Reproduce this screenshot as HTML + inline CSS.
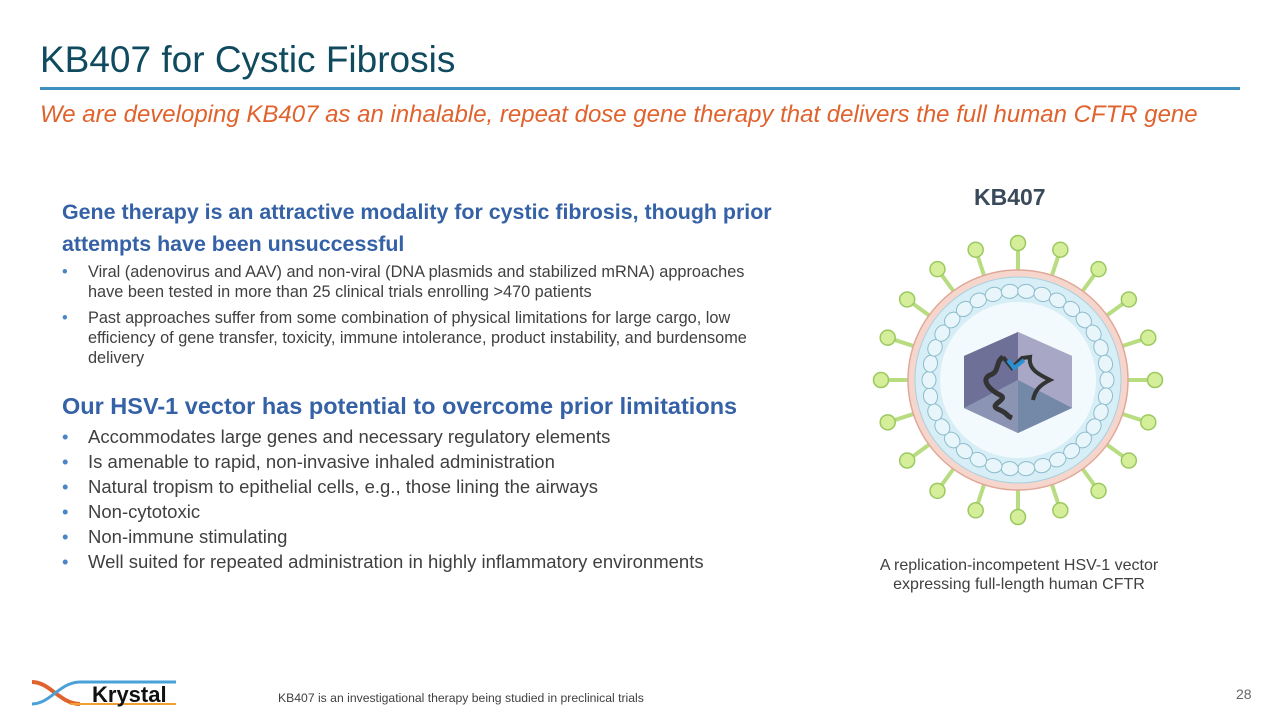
<!DOCTYPE html>
<html><head><meta charset="utf-8"><style>
body{margin:0;width:1280px;height:720px;background:#fff;font-family:"Liberation Sans",sans-serif;position:relative;overflow:hidden}
.a{position:absolute}
h1{position:absolute;left:40px;top:39px;margin:0;font-weight:normal;font-size:37px;color:#0f4a5e}
.rule{left:40px;top:87px;width:1200px;height:3px;background:#3f8fbf}
.sub{left:40px;top:101px;font-style:italic;font-size:24px;color:#e0622d}
.hd{color:#3561a6;font-weight:bold;font-size:21.4px;line-height:32px}
ul{margin:0;padding:0;list-style:none}
li{position:relative;padding-left:26px;color:#404040}
li:before{content:"•";position:absolute;left:0;color:#4a86c5}
.l1 li{font-size:16.3px;line-height:20px;margin-bottom:6px}
.l2 li{font-size:18.5px;line-height:25px}
</style></head><body>
<h1>KB407 for Cystic Fibrosis</h1>
<div class="a rule"></div>
<div class="a sub">We are developing KB407 as an inhalable, repeat dose gene therapy that delivers the full human CFTR gene</div>
<div class="a" style="left:62px;top:196px;width:740px">
<div class="hd">Gene therapy is an attractive modality for cystic fibrosis, though prior attempts have been unsuccessful</div>
<ul class="l1" style="margin-top:2px;width:712px">
<li>Viral (adenovirus and AAV) and non-viral (DNA plasmids and stabilized mRNA) approaches have been tested in more than 25 clinical trials enrolling &gt;470 patients</li>
<li>Past approaches suffer from some combination of physical limitations for large cargo, low efficiency of gene transfer, toxicity, immune intolerance, product instability, and burdensome delivery</li>
</ul>
<div class="hd" style="font-size:23.5px;margin-top:22px">Our HSV-1 vector has potential to overcome prior limitations</div>
<ul class="l2" style="margin-top:2px">
<li>Accommodates large genes and necessary regulatory elements</li>
<li>Is amenable to rapid, non-invasive inhaled administration</li>
<li>Natural tropism to epithelial cells, e.g., those lining the airways</li>
<li>Non-cytotoxic</li>
<li>Non-immune stimulating</li>
<li>Well suited for repeated administration in highly inflammatory environments</li>
</ul></div>
<div class="a" style="left:974px;top:184px;font-size:23px;font-weight:bold;color:#3a4a5a">KB407</div>
<svg class="a" style="left:860px;top:220px" width="320" height="320" viewBox="860 220 320 320" id="v"></svg>
<div class="a" style="left:850px;top:556px;width:338px;text-align:center;font-size:16px;line-height:19px;color:#404040">A replication-incompetent HSV-1 vector expressing full-length human CFTR</div>
<div class="a" style="left:278px;top:691px;font-size:12.2px;color:#404040">KB407 is an investigational therapy being studied in preclinical trials</div>
<div class="a" style="left:1236px;top:686px;font-size:14px;color:#666">28</div>
<svg class="a" style="left:30px;top:678px" width="150" height="32">
<path d="M2 4 C20 4 30 26 50 26" stroke="#e0622d" stroke-width="4" fill="none"/>
<path d="M2 26 C20 26 30 4 50 4 L146 4" stroke="#4aa0d8" stroke-width="3" fill="none"/>
<path d="M40 26 L146 26" stroke="#f0a030" stroke-width="2" fill="none"/>
<text x="62" y="24" font-family="Liberation Sans" font-weight="bold" font-size="22" fill="#111">Krystal</text>
</svg>
<script>
var s='',cx=1018,cy=380;
for(var i=0;i<20;i++){var a=(-90+i*18)*Math.PI/180,c=Math.cos(a),n=Math.sin(a);
s+='<line x1="'+(cx+c*108)+'" y1="'+(cy+n*108)+'" x2="'+(cx+c*132)+'" y2="'+(cy+n*132)+'" stroke="#b8dc80" stroke-width="4"/>';
s+='<circle cx="'+(cx+c*137)+'" cy="'+(cy+n*137)+'" r="7.5" fill="#d4ee9a" stroke="#9cc860" stroke-width="1.5"/>';}
s+='<circle cx="'+cx+'" cy="'+cy+'" r="110" fill="#f6d6cc" stroke="#e0a898" stroke-width="1.5"/>';
s+='<circle cx="'+cx+'" cy="'+cy+'" r="103" fill="#d8eef6" stroke="#a8d0e0"/>';
s+='<circle cx="'+cx+'" cy="'+cy+'" r="78" fill="#f2fafd"/>';
for(var i=0;i<34;i++){var a=i*2*Math.PI/34;s+='<ellipse cx="'+(cx+Math.cos(a)*89)+'" cy="'+(cy+Math.sin(a)*89)+'" rx="8.5" ry="7" transform="rotate('+(i*360/34+90)+' '+(cx+Math.cos(a)*89)+' '+(cy+Math.sin(a)*89)+')" fill="#e8f6fb" stroke="#8cbccc"/>';}
s+='<polygon points="1018,332 1072,356 1072,408 1018,433 964,408 964,356" fill="#8a8cb0"/>';
s+='<polygon points="1018,332 1072,356 1072,408 1018,380" fill="#a8a8c6"/><polygon points="964,356 1018,332 1018,380 964,408" fill="#6e7098"/><polygon points="964,408 1018,380 1018,433" fill="#8c94b4"/><polygon points="1018,380 1072,408 1018,433" fill="#7488a8"/>';
s+='<path d="M1003,357 C995,362 1000,372 990,375 C980,380 990,390 1000,395 C1010,400 985,405 1000,410 C1010,415 1005,415 1012,418" stroke="#333" stroke-width="5" fill="none"/>';
s+='<path d="M1003,357 L1012,368 L1022,358 L1030,357 C1028,370 1040,375 1050,380 C1040,385 1035,390 1033,400" stroke="#333" stroke-width="4" fill="none"/>';
s+='<path d="M1008,360 L1014,368 L1024,360" stroke="#2a90d0" stroke-width="4" fill="none"/>';
document.getElementById('v').innerHTML=s;
</script>
</body></html>
